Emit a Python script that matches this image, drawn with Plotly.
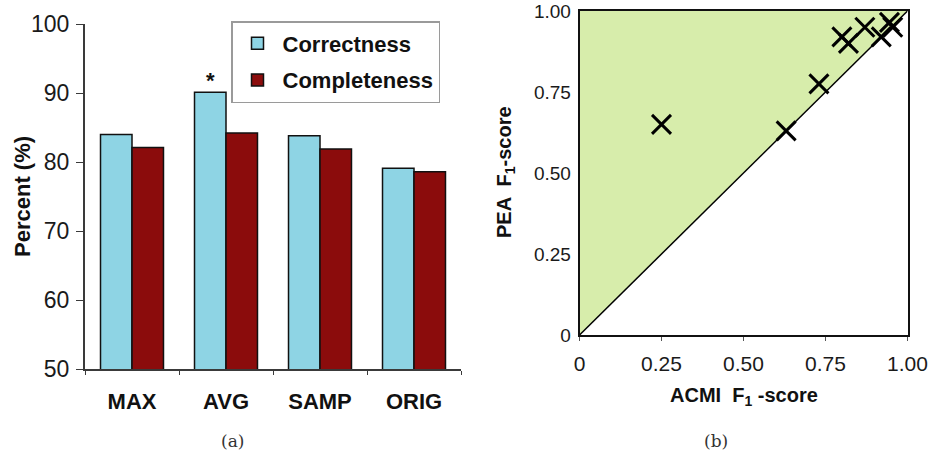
import plotly.graph_objects as go

# ---- data (a) ----
methods = ["MAX", "AVG", "SAMP", "ORIG"]
correctness = [84.0, 90.1, 83.8, 79.1]
completeness = [82.1, 84.2, 81.9, 78.6]
y_ticks_a = [50, 60, 70, 80, 90, 100]

# ---- data (b) ----
acmi_f1 = [0.25, 0.63, 0.73, 0.80, 0.82, 0.87, 0.92, 0.945, 0.955]
pea_f1 = [0.65, 0.63, 0.775, 0.92, 0.90, 0.95, 0.92, 0.965, 0.95]
ticks_b = [0, 0.25, 0.5, 0.75, 1.0]
tick_text_b = ["0", "0.25", "0.50", "0.75", "1.00"]
diag_x = [0, 1]
diag_y = [0, 1]
region_x = [0, 0, 1, 0]
region_y = [0, 1, 1, 0]

W, H = 934, 464
FONT = "Liberation Sans, Arial, sans-serif"

fig = go.Figure()

fig.add_trace(go.Bar(
    x=methods, y=correctness, name="<b>Correctness</b>",
    marker=dict(color="#8ED4E4", line=dict(color="#111111", width=1.5)),
    xaxis="x", yaxis="y", legendgroup="a",
))
fig.add_trace(go.Bar(
    x=methods, y=completeness, name="<b>Completeness</b>",
    marker=dict(color="#8B0C0C", line=dict(color="#111111", width=1.5)),
    xaxis="x", yaxis="y", legendgroup="b",
))

# right panel
fig.add_trace(go.Scatter(
    x=region_x, y=region_y, fill="toself", fillcolor="#D7EDAB",
    line=dict(width=0), mode="lines", showlegend=False, hoverinfo="skip",
    xaxis="x2", yaxis="y2",
))
fig.add_trace(go.Scatter(
    x=diag_x, y=diag_y, mode="lines", line=dict(color="#000000", width=1.5),
    showlegend=False, xaxis="x2", yaxis="y2",
))
fig.add_trace(go.Scatter(
    x=acmi_f1, y=pea_f1, mode="markers",
    marker=dict(symbol="x-thin", size=19, line=dict(color="#000000", width=3)),
    showlegend=False, xaxis="x2", yaxis="y2", cliponaxis=False,
))

def px(x):
    return x / W

def py(y):
    return 1 - y / H

fig.update_layout(
    width=W, height=H,
    margin=dict(l=0, r=0, t=0, b=0, autoexpand=False),
    paper_bgcolor="white", plot_bgcolor="white",
    font=dict(family=FONT, color="#1a1a1a"),
    barmode="group", bargap=0.33, bargroupgap=0,
    showlegend=True,
    legend=dict(
        x=px(231), y=py(21), xanchor="left", yanchor="top",
        bordercolor="#9a9a9a", borderwidth=1.5, bgcolor="white",
        font=dict(size=22, family=FONT, color="#111111"),
        traceorder="grouped", tracegroupgap=5,
        itemwidth=40,
    ),
    xaxis=dict(
        domain=[px(85), px(461)], anchor="y", automargin=False,
        showline=True, linecolor="#3a3a3a", linewidth=2,
        ticks="outside", tickson="boundaries", ticklen=4, tickcolor="#3a3a3a",
        tickfont=dict(size=22, family=FONT, color="#111111"),
        ticklabelstandoff=12,
        tickvals=methods,
        ticktext=["<b>%s</b>" % m for m in methods],
        showgrid=False, fixedrange=True,
    ),
    yaxis=dict(
        domain=[py(369), py(24)], anchor="x", automargin=False,
        range=[50, 100], tickvals=y_ticks_a,
        showline=True, linecolor="#3a3a3a", linewidth=2,
        ticks="outside", ticklen=7, tickcolor="#3a3a3a",
        tickfont=dict(size=23, family=FONT, color="#1a1a1a"),
        ticklabelstandoff=2,
        showgrid=False, zeroline=False,
    ),
    xaxis2=dict(
        domain=[px(579.5), px(907.5)], anchor="y2", automargin=False,
        range=[0, 1], tickvals=ticks_b, ticktext=tick_text_b,
        showline=True, mirror=True, linecolor="#111111", linewidth=1.5,
        ticks="outside", ticklen=4, tickcolor="#555555",
        tickfont=dict(size=21, family=FONT, color="#1a1a1a"),
        ticklabelstandoff=5, ticklabeloverflow="allow",
        showgrid=False, zeroline=False,
    ),
    yaxis2=dict(
        domain=[py(335), py(11)], anchor="x2", automargin=False,
        range=[0, 1], tickvals=ticks_b, ticktext=tick_text_b,
        showline=True, mirror=True, linecolor="#111111", linewidth=1.5,
        ticks="", ticklabelstandoff=3, ticklabeloverflow="allow",
        tickfont=dict(size=19, family=FONT, color="#1a1a1a"),
        showgrid=False, zeroline=False,
    ),
)

ann = [
    dict(x=px(23), y=py(197), text="<b>Percent (%)</b>", textangle=-90,
         font=dict(size=22, family=FONT, color="#111111")),
    dict(x=px(744), y=py(396), text="<b>ACMI  F<sub>1</sub> -score</b>",
         font=dict(size=20, family=FONT, color="#111111")),
    dict(x=px(505), y=py(172), text="<b>PEA  F<sub>1</sub>-score</b>", textangle=-90,
         font=dict(size=20, family=FONT, color="#111111")),
    dict(x=px(232), y=py(441), text="(a)",
         font=dict(size=17, family="DejaVu Serif, serif", color="#333333")),
    dict(x=px(716), y=py(441), text="(b)",
         font=dict(size=17, family="DejaVu Serif, serif", color="#333333")),
]
for a in ann:
    a.update(xref="paper", yref="paper", showarrow=False, xanchor="center", yanchor="middle")
    fig.add_annotation(**a)

# star over AVG correctness bar
fig.add_annotation(
    x=methods[1], y=correctness[1], xref="x", yref="y", text="<b>*</b>",
    showarrow=False, xshift=-15.5, yshift=12, font=dict(size=22, family=FONT, color="#111111"),
)

fig.write_html(
    "out.html",
    config={"displayModeBar": False},
    post_script="document.body.style.margin='0';document.body.style.overflow='hidden';",
)
